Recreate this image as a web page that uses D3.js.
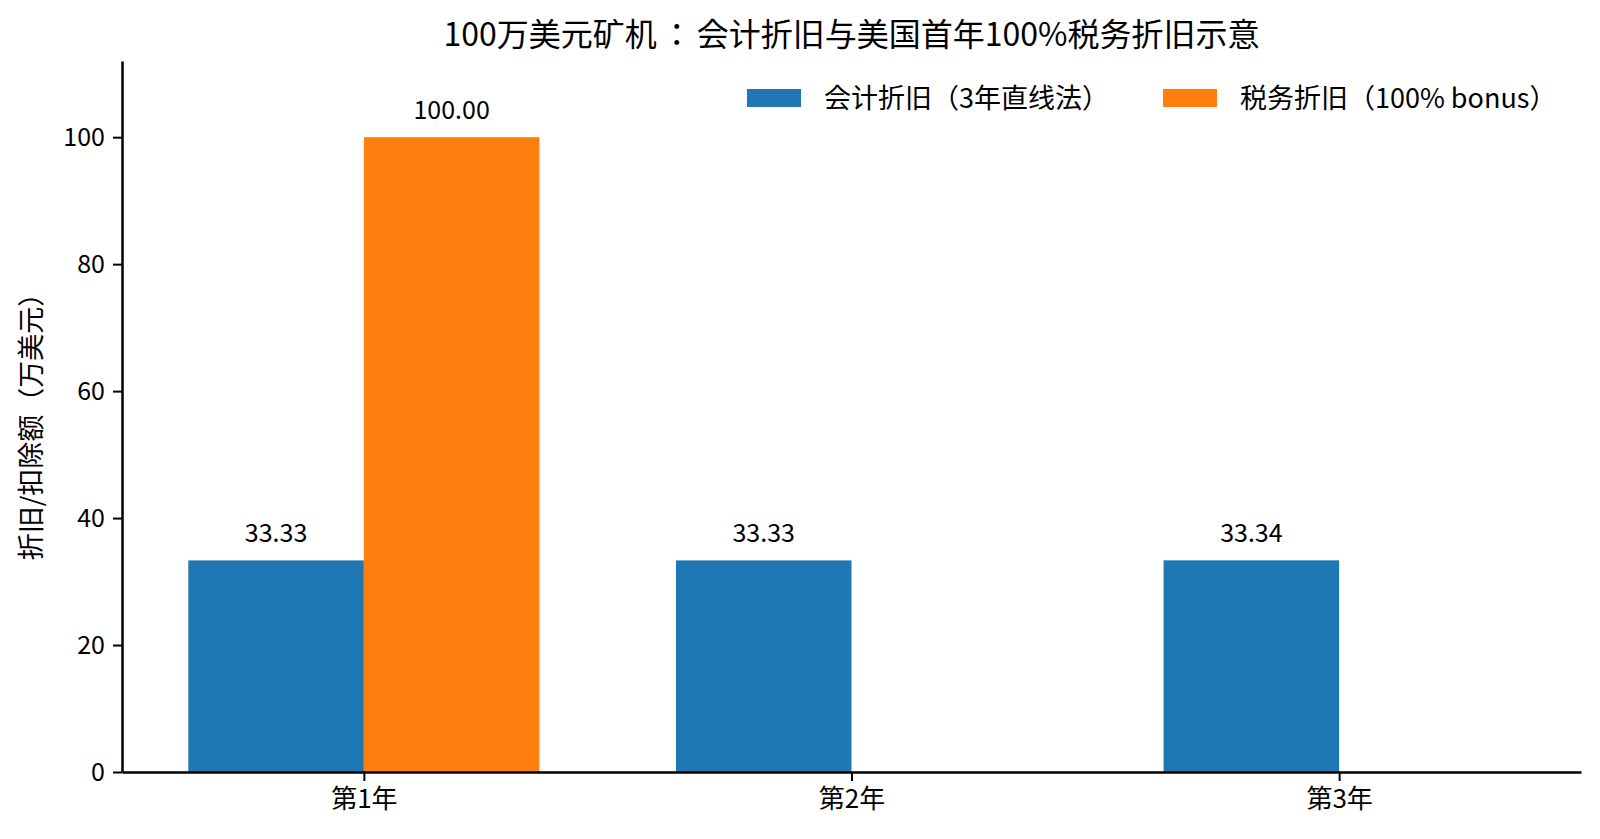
<!DOCTYPE html>
<html>
<head>
<meta charset="utf-8">
<script src="https://cdn.jsdelivr.net/npm/d3@7/dist/d3.min.js"></script>
<style>
  html, body { margin: 0; padding: 0; background: #fff; }
  text { font-family: "Noto Sans CJK JP", "Noto Sans CJK SC", "Noto Sans", sans-serif; fill: #000; }
</style>
</head>
<body>
<svg id="chart" width="1600" height="839"></svg>
<script>
var years = ['第1年', '第2年', '第3年']
  , bookValues = [33.33, 33.33, 33.34]
  , taxValues = [100, 0, 0]
  , seriesNames = ['会计折旧（3年直线法）', '税务折旧（100% bonus）']
  , seriesColors = ['#1f77b4', '#ff7f0e']
  , yTicks = [0, 20, 40, 60, 80, 100]

var TITLE = '100万美元矿机：会计折旧与美国首年100%税务折旧示意'
  , Y_LABEL = '折旧/扣除额（万美元）'
  , BAR_W = 0.36
  , FONT = 25
  , LABEL_FONT = 27
  , FAMILY = '"Noto Sans CJK JP", "Noto Sans CJK SC", "Noto Sans", sans-serif'

var margin = {left: 122, right: 1581, top: 61, bottom: 772}

var svg = d3.select('#chart')

var x = d3.scaleLinear()
  .domain([-0.496, years.length - 1 + 0.496])
  .range([margin.left, margin.right])

var y = d3.scaleLinear()
  .domain([0, 112])
  .range([margin.bottom, margin.top])

var series = [
    {name: seriesNames[0], color: seriesColors[0], values: bookValues, shift: -BAR_W / 2}
  , {name: seriesNames[1], color: seriesColors[1], values: taxValues, shift: BAR_W / 2}
]

// bars
series.forEach(function(s) {
  svg.append('g')
    .selectAll('rect')
    .data(s.values)
    .enter()
      .append('rect')
      .attr('x', function(d, i) { return x(i + s.shift - BAR_W / 2) })
      .attr('width', function() { return x(BAR_W) - x(0) })
      .attr('y', function(d) { return y(d) })
      .attr('height', function(d) { return y(0) - y(d) })
      .attr('fill', s.color)
})

// value labels, zero bars get none
series.forEach(function(s) {
  svg.append('g')
    .selectAll('text')
    .data(s.values.map(function(v, i) { return {v: v, i: i} }).filter(function(d) { return d.v > 0 }))
    .enter()
      .append('text')
      .attr('x', function(d) { return x(d.i + s.shift) })
      .attr('y', function(d) { return y(d.v) - 18 })
      .attr('text-anchor', 'middle')
      .attr('font-size', FONT)
      .text(function(d) { return d.v.toFixed(2) })
})

// axes
var yAxis = svg.append('g')
  .attr('transform', 'translate(' + margin.left + ',0)')
  .call(d3.axisLeft(y).tickValues(yTicks).tickSize(9).tickSizeOuter(0).tickPadding(8))

var xAxis = svg.append('g')
  .attr('transform', 'translate(0,' + margin.bottom + ')')
  .call(d3.axisBottom(x).tickValues(d3.range(years.length)).tickFormat(function(d) { return years[d] }).tickSize(9).tickSizeOuter(0).tickPadding(9))

;[yAxis, xAxis].forEach(function(g) {
  g.select('.domain').attr('stroke', '#000').attr('stroke-width', 2.5)
  g.selectAll('.tick line').attr('stroke', '#000').attr('stroke-width', 2)
  g.selectAll('.tick text')
    .attr('font-size', FONT)
    .attr('font-family', FAMILY)
    .attr('fill', '#000')
})
xAxis.selectAll('.tick text').attr('font-size', 26)

// y label
svg.append('text')
  .attr('transform', 'translate(41,420) rotate(-90)')
  .attr('text-anchor', 'middle')
  .attr('font-size', LABEL_FONT)
  .text(Y_LABEL)

// title, colon gets a little extra air like the original
var title = svg.append('text')
  .attr('x', (margin.left + margin.right) / 2)
  .attr('y', 46)
  .attr('text-anchor', 'middle')
  .attr('font-size', 32)

TITLE.split('：').forEach(function(part, i) {
  if(i) {
    title.append('tspan').attr('dx', 4).text('：')
    title.append('tspan').attr('dx', 4).text(part)
  } else {
    title.append('tspan').text(part)
  }
})

// legend
var legendX = [747, 1163]

var legend = svg.append('g')
  .selectAll('g')
  .data(series)
  .enter()
    .append('g')
    .attr('transform', function(d, i) { return 'translate(' + legendX[i] + ',89)' })

legend.append('rect')
  .attr('width', 54)
  .attr('height', 18)
  .attr('fill', function(d) { return d.color })

legend.append('text')
  .attr('x', 77)
  .attr('y', 19)
  .attr('font-size', LABEL_FONT)
  .text(function(d) { return d.name })
</script>
</body>
</html>
